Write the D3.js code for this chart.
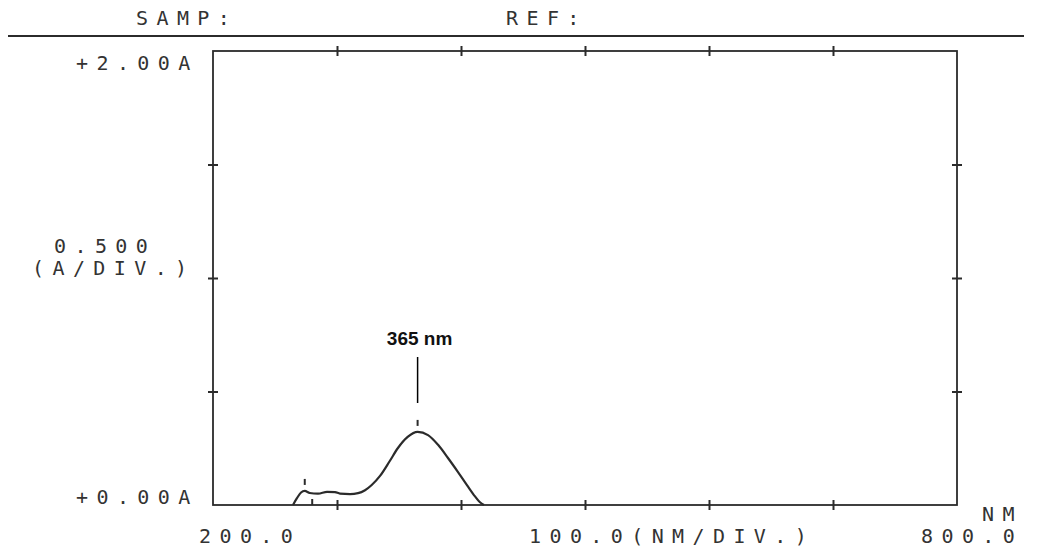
<!DOCTYPE html>
<html>
<head>
<meta charset="utf-8">
<script src="https://cdn.jsdelivr.net/npm/d3@7"></script>
<style>
  html, body { margin: 0; padding: 0; background: #fff; }
  .mono { font-family: "DejaVu Sans Mono", "Liberation Mono", monospace; font-size: 20px; fill: #333; letter-spacing: 8.4px; }
</style>
</head>
<body>
<div id="chart"></div>
<script>
// spectrum (wavelength nm, absorbance A)
const wavelengths = [264.5, 267.7, 271, 274, 278, 284.7, 292, 298.4, 302.4, 310.5, 317, 322.6, 328,
                     334.7, 342.7, 349, 357, 365, 373.4, 381.5, 389.5, 397.6, 404.8, 411.3, 415.3, 418.5];
const absorbance  = [0, 0.03, 0.055, 0.062, 0.053, 0.05, 0.058, 0.057, 0.05, 0.048, 0.052, 0.065, 0.088,
                     0.128, 0.195, 0.25, 0.30, 0.322, 0.308, 0.265, 0.207, 0.145, 0.088, 0.038, 0.012, 0];
const peakMarks = [274, 365];          // small dashes above the detected peaks
const baseMarks = [280];               // small dash on the baseline
const xTicks = [300, 400, 500, 600, 700];
const yTicks = [0.5, 1.0, 1.5];
const xEndLabels = ["200.0", "800.0"];
const yEndLabels = ["+0.00A", "+2.00A"];
const peakLabel = "365 nm";
const peakNm = 365;

const width = 1037, height = 556;
const margin = {top: 51, right: 80, bottom: 51, left: 213};

const svg = d3.select("#chart").append("svg")
    .attr("width", width)
    .attr("height", height);

const x = d3.scaleLinear().domain([200, 800]).range([margin.left, width - margin.right]);
const y = d3.scaleLinear().domain([0, 2]).range([height - margin.bottom, margin.top]);

const ink = "#2b2b2b";

// header
svg.append("text").attr("class", "mono").attr("x", 136).attr("y", 25).text("SAMP:");
svg.append("text").attr("class", "mono").attr("x", 506).attr("y", 25).text("REF:");
svg.append("line")
   .attr("x1", 8).attr("x2", 1024).attr("y1", 36).attr("y2", 36)
   .attr("stroke", ink).attr("stroke-width", 1.8);

// frame
svg.append("rect")
   .attr("x", x(200)).attr("y", y(2))
   .attr("width", x(800) - x(200)).attr("height", y(0) - y(2))
   .attr("fill", "none").attr("stroke", ink).attr("stroke-width", 1.8);

// ticks crossing the frame on all four sides
const crossX = (g) => g.selectAll(".tick line").attr("y1", -5).attr("y2", 5).attr("stroke", ink).attr("stroke-width", 2);
const crossY = (g) => g.selectAll(".tick line").attr("x1", -5).attr("x2", 5).attr("stroke", ink).attr("stroke-width", 2);
const bare = (g) => { g.select(".domain").remove(); g.selectAll(".tick text").remove(); };

svg.append("g").attr("transform", `translate(0,${y(0)})`)
   .call(d3.axisBottom(x).tickValues(xTicks)).call(bare).call(crossX);
svg.append("g").attr("transform", `translate(0,${y(2)})`)
   .call(d3.axisTop(x).tickValues(xTicks)).call(bare).call(crossX);
svg.append("g").attr("transform", `translate(${x(200)},0)`)
   .call(d3.axisLeft(y).tickValues(yTicks)).call(bare).call(crossY);
svg.append("g").attr("transform", `translate(${x(800)},0)`)
   .call(d3.axisRight(y).tickValues(yTicks)).call(bare).call(crossY);

// axis labels
svg.append("text").attr("class", "mono").attr("x", x(200) - 137).attr("y", y(0) - 1).text(yEndLabels[0]);
svg.append("text").attr("class", "mono").attr("x", x(200) - 137).attr("y", y(2) + 19).text(yEndLabels[1]);
svg.append("text").attr("class", "mono").attr("x", 54).attr("y", 253).text("0.500");
svg.append("text").attr("class", "mono").attr("x", 32).attr("y", 275).text("(A/DIV.)");

svg.append("text").attr("class", "mono").attr("x", x(200) - 14).attr("y", y(0) + 38).text(xEndLabels[0]);
svg.append("text").attr("class", "mono").attr("x", 529).attr("y", y(0) + 38).text("100.0(NM/DIV.)");
svg.append("text").attr("class", "mono").attr("x", x(800) - 36).attr("y", y(0) + 38).text(xEndLabels[1]);
svg.append("text").attr("class", "mono").attr("x", x(800) + 25).attr("y", y(0) + 16).text("NM");

// trace
const line = d3.line()
    .x((d, i) => x(wavelengths[i]))
    .y(d => y(d))
    .curve(d3.curveMonotoneX);

svg.append("path")
   .datum(absorbance)
   .attr("fill", "none")
   .attr("stroke", ink)
   .attr("stroke-width", 2.2)
   .attr("stroke-linejoin", "round")
   .attr("d", line);

// peak markers
const absAt = nm => {
  const i = d3.bisectLeft(wavelengths, nm);
  return absorbance[Math.min(i, absorbance.length - 1)];
};
svg.selectAll(".pk").data(peakMarks).join("line")
   .attr("x1", d => x(d)).attr("x2", d => x(d))
   .attr("y1", d => y(absAt(d)) - 12).attr("y2", d => y(absAt(d)) - 6)
   .attr("stroke", ink).attr("stroke-width", 2);
svg.selectAll(".bm").data(baseMarks).join("line")
   .attr("x1", d => x(d)).attr("x2", d => x(d))
   .attr("y1", y(0) - 6).attr("y2", y(0))
   .attr("stroke", ink).attr("stroke-width", 2);

// annotation
svg.append("line")
   .attr("x1", x(peakNm)).attr("x2", x(peakNm))
   .attr("y1", 357).attr("y2", 403)
   .attr("stroke", "#000").attr("stroke-width", 1.5);
svg.append("text")
   .attr("x", x(peakNm) + 2).attr("y", 345)
   .attr("text-anchor", "middle")
   .attr("font-family", "Liberation Sans, Arial, sans-serif")
   .attr("font-weight", "bold")
   .attr("font-size", 19)
   .attr("fill", "#111")
   .text(peakLabel);
</script>
</body>
</html>
